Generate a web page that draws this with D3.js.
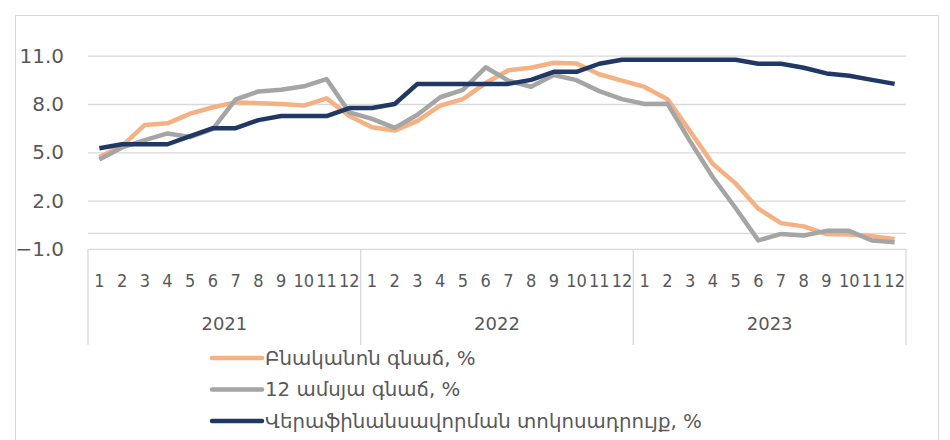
<!DOCTYPE html>
<html lang="hy">
<head>
    <meta charset="UTF-8">
    <title>Գնաճ և վերաֆինանսավորման տոկոսադրույք</title>
    <script src="https://d3js.org/d3.v7.min.js"></script>
    <style>
        body { margin: 0; background: #fff; }
        text { font-family: "DejaVu Sans", sans-serif; }
        .axis text { fill: #595959; }
        .months text { font-stretch: condensed; }
        .grid line { stroke: #d9d9d9; stroke-width: 1.3; }
        .series { fill: none; stroke-width: 4.5; stroke-linejoin: round; }
    </style>
</head>
<body>
    <svg id="chart" width="950" height="440"></svg>

    <script>
        const years = ['2021', '2022', '2023'];
        const months = ['1', '2', '3', '4', '5', '6', '7', '8', '9', '10', '11', '12'];
        const yTicks = [11, 8, 5, 2, -1];

        const coreInflation = [
            4.7, 5.4, 6.7, 6.8, 7.4, 7.8, 8.1, 8.05, 8.0, 7.9, 8.35, 7.25,
            6.56, 6.35, 6.95, 7.9, 8.3, 9.3, 10.1, 10.25, 10.56, 10.52, 9.85, 9.45,
            9.06, 8.3, 6.3, 4.27, 3.07, 1.5, 0.6, 0.4, -0.08, -0.1, -0.22, -0.38
        ];
        const inflation12m = [
            4.55, 5.3, 5.75, 6.17, 5.95, 6.45, 8.28, 8.78, 8.88, 9.1, 9.55, 7.48,
            7.08, 6.52, 7.33, 8.42, 8.88, 10.28, 9.45, 9.07, 9.8, 9.48, 8.8, 8.3,
            8.0, 8.02, 5.68, 3.45, 1.54, -0.47, -0.07, -0.17, 0.12, 0.12, -0.48, -0.58
        ];
        const refinancingRate = [
            5.25, 5.5, 5.5, 5.5, 6.0, 6.5, 6.5, 7.0, 7.25, 7.25, 7.25, 7.75,
            7.75, 8.0, 9.25, 9.25, 9.25, 9.25, 9.25, 9.5, 10.0, 10.0, 10.5, 10.75,
            10.75, 10.75, 10.75, 10.75, 10.75, 10.5, 10.5, 10.25, 9.9, 9.75, 9.5, 9.25
        ];

        const seriesNames = [
            'Բնականոն գնաճ, %',
            '12 ամսյա գնաճ, %',
            'Վերաֆինանսավորման տոկոսադրույք, %'
        ];
        const seriesColors = ['#f4b183', '#a5a5a5', '#203864'];

        const svg = d3.select('#chart');

        // outer chart border
        svg.append('rect')
            .attr('x', 15.5).attr('y', 15.5)
            .attr('width', 923).attr('height', 440)
            .attr('fill', 'none')
            .attr('stroke', '#d9d9d9');

        const plot = { left: 88, right: 906, top: 55.7, bottom: 248.9 };

        const categories = [];
        years.forEach(yr => months.forEach(m => categories.push(yr + '-' + m)));

        const x = d3.scaleBand()
            .domain(categories)
            .range([plot.left, plot.right]);

        const xYear = d3.scaleBand()
            .domain(years)
            .range([plot.left, plot.right]);

        const y = d3.scaleLinear()
            .domain([-1, 11])
            .range([plot.bottom, plot.top]);

        // horizontal gridlines (incl. zero line)
        svg.append('g')
            .attr('class', 'grid')
            .attr('transform', `translate(${plot.left},0)`)
            .call(d3.axisLeft(y).tickValues([11, 8, 5, 2, 0, -1]).tickSize(-(plot.right - plot.left)).tickFormat(''))
            .call(g => g.select('.domain').remove());

        // y axis labels
        svg.append('g')
            .attr('class', 'axis')
            .attr('transform', 'translate(64,0)')
            .call(d3.axisLeft(y).tickValues(yTicks).tickSize(0).tickPadding(0).tickFormat(d3.format('.1f')))
            .call(g => g.select('.domain').remove())
            .selectAll('text')
            .attr('font-family', null)
            .attr('font-size', 20);

        // category box separators
        svg.append('g')
            .selectAll('line')
            .data(years.concat(['end']))
            .join('line')
            .attr('x1', d => d === 'end' ? plot.right : xYear(d))
            .attr('x2', d => d === 'end' ? plot.right : xYear(d))
            .attr('y1', plot.bottom)
            .attr('y2', 345)
            .attr('stroke', '#d9d9d9')
            .attr('stroke-width', 1.3);

        // month labels
        svg.append('g')
            .attr('class', 'axis months')
            .attr('transform', `translate(0,${plot.bottom})`)
            .call(d3.axisBottom(x).tickSize(0).tickPadding(25).tickFormat(d => d.split('-')[1]))
            .call(g => g.select('.domain').remove())
            .selectAll('text')
            .attr('font-family', null)
            .attr('font-size', 18);

        // year labels
        svg.append('g')
            .attr('class', 'axis')
            .attr('transform', `translate(0,${plot.bottom})`)
            .call(d3.axisBottom(xYear).tickSize(0).tickPadding(68))
            .call(g => g.select('.domain').remove())
            .selectAll('text')
            .attr('font-family', null)
            .attr('font-size', 18);

        const line = d3.line()
            .x((d, i) => x(categories[i]) + x.bandwidth() / 2)
            .y(d => y(d));

        const allSeries = [coreInflation, inflation12m, refinancingRate];

        svg.append('g')
            .selectAll('path')
            .data(allSeries)
            .join('path')
            .attr('class', 'series')
            .attr('stroke', (d, i) => seriesColors[i])
            .attr('d', line);

        // legend
        const legend = svg.append('g')
            .selectAll('g')
            .data(seriesNames)
            .join('g')
            .attr('transform', (d, i) => `translate(212,${358 + i * 31.5})`);

        legend.append('line')
            .attr('x1', 0).attr('x2', 50)
            .attr('stroke', (d, i) => seriesColors[i])
            .attr('stroke-width', 4.5)
            .attr('stroke-linecap', 'round');

        legend.append('text')
            .attr('x', 53)
            .attr('dy', '0.35em')
            .attr('fill', '#595959')
            .attr('font-size', 19.8)
            .text(d => d);
    </script>
</body>
</html>
